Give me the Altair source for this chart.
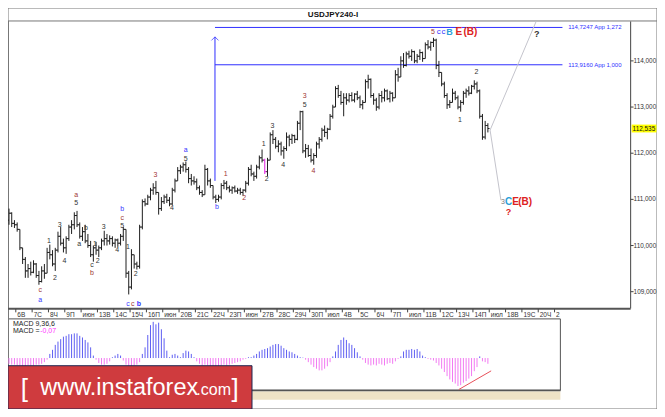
import altair as alt
import pandas as pd

# ---------------- data ----------------
OPEN = [110.55,110.70,110.48,110.45,110.35,109.95,109.70,109.45,109.50,109.42,
        109.60,109.35,109.22,109.45,109.40,109.85,109.80,109.60,109.90,110.20,
        110.05,109.95,110.15,110.40,110.45,110.65,110.45,110.20,110.30,110.10,
        110.00,109.80,109.95,109.90,109.95,110.10,110.15,110.10,110.15,110.05,
        110.12,110.05,110.20,110.35,109.40,109.10,109.80,109.60,109.55,110.40,
        110.95,110.90,111.05,111.20,111.25,111.15,110.80,110.95,111.05,110.98,
        110.90,111.20,111.40,111.62,111.70,111.75,111.65,111.45,111.40,111.38,
        111.25,111.15,111.10,111.65,111.40,111.30,111.05,111.00,111.05,111.30,
        111.35,111.25,111.20,111.25,111.18,111.20,111.15,111.20,111.35,111.65,
        111.55,111.50,111.70,111.90,111.85,111.60,111.85,112.40,112.30,112.15,
        112.20,112.05,112.10,112.35,112.30,112.38,112.30,112.65,112.90,112.05,
        112.10,111.95,111.85,111.95,112.20,112.30,112.50,112.45,112.52,112.80,
        113.00,113.40,113.25,113.10,113.20,113.15,113.25,113.15,113.28,113.20,
        113.05,113.10,113.55,113.60,113.25,113.15,113.00,113.25,113.20,113.35,
        113.18,113.30,113.20,113.70,113.65,114.00,113.90,114.15,114.10,114.20,
        114.00,114.10,114.18,114.05,114.35,114.30,114.40,114.45,113.90,113.75,
        113.50,113.25,113.05,113.10,113.30,113.20,113.00,113.10,113.30,113.35,
        113.30,113.45,113.50,113.35,112.80,112.35,112.60]
HIGH = [110.80,110.72,110.55,110.50,110.35,109.95,109.75,109.60,109.65,109.68,
        109.62,109.45,109.55,109.60,109.95,110.02,109.90,109.95,110.30,110.40,
        110.15,110.20,110.45,110.55,110.72,110.75,110.50,110.40,110.45,110.25,
        110.10,110.00,110.08,110.00,110.15,110.32,110.25,110.22,110.20,110.15,
        110.15,110.25,110.40,110.35,109.45,109.92,109.80,109.65,110.45,111.00,
        111.02,111.10,111.25,111.35,111.40,111.15,111.05,111.10,111.12,111.05,
        111.25,111.45,111.70,111.75,111.80,111.82,111.70,111.55,111.50,111.45,
        111.30,111.20,111.75,111.68,111.45,111.30,111.10,111.10,111.35,111.42,
        111.40,111.30,111.28,111.30,111.25,111.25,111.22,111.40,111.70,111.75,
        111.60,111.75,111.95,112.08,111.88,111.90,112.45,112.50,112.35,112.28,
        112.25,112.15,112.45,112.40,112.42,112.40,112.70,112.92,112.92,112.20,
        112.18,112.10,112.00,112.25,112.35,112.55,112.60,112.55,112.85,113.05,
        113.45,113.48,113.35,113.30,113.30,113.30,113.32,113.30,113.35,113.25,
        113.15,113.60,113.70,113.62,113.30,113.20,113.30,113.35,113.40,113.38,
        113.35,113.32,113.80,113.85,114.10,114.17,114.20,114.22,114.25,114.22,
        114.15,114.25,114.20,114.40,114.45,114.42,114.50,114.48,114.00,113.75,
        113.55,113.30,113.15,113.40,113.35,113.25,113.15,113.35,113.40,113.45,
        113.48,113.58,113.55,113.38,112.85,112.70,112.65]
LOW = [110.45,110.40,110.38,110.30,109.90,109.60,109.30,109.30,109.35,109.40,
       109.30,109.15,109.20,109.28,109.40,109.70,109.55,109.45,109.85,110.00,
       109.85,109.82,110.10,110.25,110.35,110.40,110.15,110.10,110.05,109.95,
       109.75,109.65,109.80,109.75,109.90,110.00,110.00,110.02,109.98,109.95,
       109.97,110.00,110.10,109.30,108.94,109.05,109.50,109.48,109.50,110.35,
       110.85,110.88,110.98,111.10,111.10,110.67,110.75,110.90,110.92,110.85,
       110.88,111.15,111.40,111.55,111.60,111.58,111.35,111.30,111.32,111.20,
       111.10,111.05,111.10,111.30,111.25,111.00,110.92,110.95,111.00,111.22,
       111.20,111.15,111.12,111.15,111.12,111.10,111.08,111.15,111.30,111.50,
       111.40,111.45,111.65,111.80,111.55,111.50,111.85,112.20,112.10,112.02,
       111.95,111.88,112.05,112.15,112.20,112.22,112.28,112.50,112.00,111.90,
       111.92,111.80,111.75,111.90,112.10,112.25,112.35,112.30,112.50,112.75,
       113.00,113.20,113.05,112.80,113.05,113.10,113.12,113.10,113.15,112.98,
       112.95,113.10,113.40,113.20,113.05,112.92,112.95,113.10,113.12,113.15,
       113.10,113.12,113.20,113.55,113.65,113.85,113.88,114.05,114.00,113.95,
       113.95,114.02,113.98,114.05,114.25,114.22,114.30,113.82,113.65,113.45,
       113.20,112.96,112.98,113.10,113.15,112.95,112.90,113.05,113.20,113.25,
       113.28,113.38,113.30,112.75,112.29,112.30,112.45]
CLOSE = [110.70,110.48,110.45,110.35,109.95,109.70,109.45,109.50,109.42,109.60,
         109.35,109.22,109.45,109.40,109.85,109.80,109.60,109.90,110.20,110.05,
         109.95,110.15,110.40,110.45,110.65,110.45,110.20,110.30,110.10,110.00,
         109.80,109.95,109.90,109.95,110.10,110.15,110.10,110.15,110.05,110.12,
         110.05,110.20,110.35,109.40,109.10,109.80,109.60,109.55,110.40,110.95,
         110.90,111.05,111.20,111.25,111.15,110.80,110.95,111.05,110.98,110.90,
         111.20,111.40,111.62,111.70,111.75,111.65,111.45,111.40,111.38,111.25,
         111.15,111.10,111.65,111.40,111.30,111.05,111.00,111.05,111.30,111.35,
         111.25,111.20,111.25,111.18,111.20,111.15,111.20,111.35,111.65,111.55,
         111.50,111.70,111.90,111.85,111.60,111.85,112.40,112.30,112.15,112.20,
         112.05,112.10,112.35,112.30,112.38,112.30,112.65,112.90,112.05,112.10,
         111.95,111.85,111.95,112.20,112.30,112.50,112.45,112.52,112.80,113.00,
         113.40,113.25,113.10,113.20,113.15,113.25,113.15,113.28,113.20,113.05,
         113.10,113.55,113.60,113.25,113.15,113.00,113.25,113.20,113.35,113.18,
         113.30,113.20,113.70,113.65,114.00,113.90,114.15,114.10,114.20,114.00,
         114.10,114.18,114.05,114.35,114.30,114.40,114.45,113.90,113.75,113.50,
         113.25,113.05,113.10,113.30,113.20,113.00,113.10,113.30,113.35,113.30,
         113.45,113.50,113.35,112.80,112.35,112.60,112.535]
MACD = [-0.07,-0.08,-0.08,-0.09,-0.09,-0.10,-0.10,-0.09,-0.09,-0.09,-0.08,-0.08,-0.07,-0.05,-0.02,
        0.05,0.10,0.16,0.20,0.23,0.26,0.27,0.29,0.29,0.30,0.30,0.27,0.25,0.22,0.19,0.13,0.03,
        -0.02,-0.06,-0.08,-0.08,-0.07,-0.04,
        0.01,0.03,0.05,0.03,
        -0.03,-0.08,-0.10,-0.10,-0.09,-0.08,-0.05,
        0.05,0.13,0.28,0.40,0.44,0.41,0.43,0.35,0.24,0.09,0.01,
        0.04,0.05,0.03,0.01,0.06,0.09,0.08,0.05,0.01,
        -0.04,-0.07,-0.09,-0.08,-0.09,-0.10,-0.10,-0.10,-0.10,-0.09,-0.08,-0.09,-0.08,-0.07,-0.06,-0.05,-0.04,-0.02,
        -0.01,0.01,
        0.01,0.03,0.05,0.08,0.10,0.11,0.12,0.14,0.16,0.17,0.17,0.15,0.12,0.10,0.08,0.07,0.05,0.03,0.01,0.005,
        -0.02,-0.05,-0.08,-0.11,-0.13,-0.15,-0.15,-0.13,-0.10,-0.05,
        0.02,0.08,0.16,0.22,0.25,0.22,0.18,0.16,0.12,0.07,0.02,
        -0.02,-0.06,-0.08,-0.09,-0.08,-0.09,-0.07,-0.08,-0.09,-0.07,-0.06,-0.07,-0.04,
        -0.01,0.02,0.08,0.10,0.10,0.11,0.10,0.11,0.08,0.03,0.01,
        -0.01,-0.02,-0.03,-0.06,-0.09,-0.13,-0.17,-0.22,-0.26,-0.29,-0.31,-0.34,-0.33,-0.30,-0.28,-0.25,-0.22,-0.16,-0.11,0.02,-0.04,-0.05,-0.07]
HIGHLIGHT_BAR = 94

DAY_LABELS = ["6В","7С","8Ч","9П","июн","13В","14С","15Ч","16П","июн","20В","21С","22Ч","23П","июн",
              "27В","28С","29Ч","30П","июл","4В","5С","6Ч","7П","июл","11В","12С","13Ч","14П","июл",
              "18В","19С","20Ч","2"]
PRICE_TICKS = [109, 110, 111, 112, 113, 114]
PRICE_TICK_TEXT = ["109,000", "110,000", "111,000", "112,000", "113,000", "114,000"]
LAST_PRICE = 112.535
LAST_PRICE_TEXT = "112,535"

FIB_LEVELS = [114.7247, 113.9160]
FIB_TEXT = ["114,7247 App 1,272", "113,9160 App 1,000"]
FIB_FROM_BAR, FIB_TO_BAR, FIB_TEXT_BAR = 75.7, 203.4, 204.8
ARROW_BAR, ARROW_FROM, ARROW_TO = 75.7, 111.40, 114.52

PROJ_BAR = [176.8, 180.8, 176.8, 193.7]
PROJ_PRICE = [112.50, 110.98, 112.50, 114.85]
PROJ_SEG = [0, 0, 1, 1]

MACD_TREND_BAR = [165.3, 177.2]
MACD_TREND_VAL = [-0.383, -0.156]

BLK, RED, BLUE, CYAN, BRED = "#333333", "#a03535", "#3535ff", "#2b9fd8", "#dd2222"
WAVE_BAR = [11.5, 11.5, 14.7, 16.85, 18.6, 20.4, 24.7, 24.7, 25.8, 28.3, 30.5, 30.5, 31.6, 32.6, 34.8,
            39.8, 41.6, 41.6, 41.6, 43.75, 45.5, 47.7, 43.75, 46.6, 53.8, 59.9, 64.9, 64.9, 76.4,
            79.6, 86.4, 93.6, 94.7, 96.8, 100.8, 108.7, 108.7, 111.9, 165.7, 171.8,
            155.8, 157.9, 159.7, 161.9, 165.3, 169.6,
            181.5, 183.6, 186.2, 189.7, 183.6, 194.0]
WAVE_PRICE = [109.04, 108.83, 110.10, 109.29, 110.44, 109.67, 110.92, 111.10, 110.04, 110.375, 109.58, 109.40,
              110.04, 109.67, 110.40, 109.90, 110.42, 110.60, 110.79, 108.73, 108.73, 108.73, 109.96, 109.375,
              111.52, 110.81, 111.875, 112.06, 110.83, 111.54, 111.02, 112.19, 111.44, 112.58, 111.75,
              113.04, 113.23, 111.625, 112.73, 113.75,
              114.625, 114.625, 114.625, 114.625, 114.625, 114.625,
              110.94, 110.94, 110.94, 110.94, 110.73, 114.58]
WAVE_TEXT = ["c", "a", "1", "2", "3", "4", "5", "a", "a", "b", "c", "b", "1", "2", "3", "4", "5", "c", "b",
             "c", "c", "b", "1", "2", "3", "4", "5", "a", "b", "1", "2", "1", "2", "3", "4", "5", "3", "4",
             "1", "2", "5", "c", "c", "B", "E", "(B)", "3", "C", "E", "(B)", "?", "?"]
WAVE_COLOR = [RED, BLUE, BLK, BLK, BLK, BLK, BLK, RED, BLK, BLK, BLK, RED, BLK, BLK, BLK, BLK, BLK, RED, BLUE,
              BLUE, RED, BLUE, BLK, BLK, RED, BLK, BLK, BLUE, BLUE, RED, RED, BLK, BLK, BLK, BLK, BLK, RED, RED,
              BLK, BLK, RED, BLUE, BLUE, CYAN, BRED, BRED, "#777777", CYAN, BRED, BRED, BRED, BLK]
WAVE_SIZE = [7] * 40 + [7, 8, 8, 9, 10, 10, 7, 10, 10, 10, 9, 9]
WAVE_BOLD = [False] * 21 + [True] + [False] * 21 + [True, True, True, False, True, True, True, True, True]

# ---------------- layout (pixels) ----------------
W, H = 649, 401
SX, SY = W / 665.0, H / 417.0


def px(v):
    return v * SX


def py(v):
    return v * SY


def xref(k):
    return 1.03 + 2.788 * k


def yref(p):
    return 55 + (114 - p) * 48


XS = alt.Scale(domain=[0, 228], range=[px(xref(0)), px(xref(228))], nice=False, zero=False)
YS = alt.Scale(domain=[108.65, 114.854], range=[py(yref(108.65)), py(yref(114.854))], nice=False, zero=False)
MS = alt.Scale(domain=[-0.394, 0.476], range=[py(397.7), py(323.3)], nice=False, zero=False)
FONT = "Liberation Sans"
FIB_BLUE = "#2f2fff"


def ex(f):
    return alt.X(f, type="quantitative", scale=XS, axis=None)


def ey(f):
    return alt.Y(f, type="quantitative", scale=YS, axis=None)


def em(f):
    return alt.Y(f, type="quantitative", scale=MS, axis=None)


one = pd.DataFrame({"a": [0]})


def box(x1, x2, y1, y2, **kw):
    return alt.Chart(one).mark_rect(**kw).encode(
        x=alt.value(x1), x2=alt.value(x2), y=alt.value(y1), y2=alt.value(y2))


def hline(x1, x2, y, color, w=1):
    return alt.Chart(one).mark_rule(color=color, strokeWidth=w).encode(
        x=alt.value(x1), x2=alt.value(x2), y=alt.value(y))


def vline(x, y1, y2, color, w=1):
    return alt.Chart(one).mark_rule(color=color, strokeWidth=w).encode(
        x=alt.value(x), y=alt.value(y1), y2=alt.value(y2))


def label(x, y, text, size, color="#222222", bold=False, align="left", font=FONT, baseline="middle"):
    return alt.Chart(one).mark_text(text=text, fontSize=size, color=color, font=font, align=align,
                                    baseline=baseline, fontWeight="bold" if bold else "normal").encode(
        x=alt.value(x), y=alt.value(y))


bars = pd.DataFrame({"k": list(range(len(OPEN))), "o": OPEN, "h": HIGH, "l": LOW, "c": CLOSE})
macd = pd.DataFrame({"k": list(range(len(MACD))), "m": MACD})
days = pd.DataFrame({"i": list(range(len(DAY_LABELS))), "t": DAY_LABELS})
pticks = pd.DataFrame({"p": PRICE_TICKS, "t": PRICE_TICK_TEXT})
fib = pd.DataFrame({"p": FIB_LEVELS, "t": FIB_TEXT, "k1": FIB_FROM_BAR, "k2": FIB_TO_BAR, "kt": FIB_TEXT_BAR})
arrow = pd.DataFrame({"k": [ARROW_BAR], "p1": [ARROW_FROM], "p2": [ARROW_TO]})
proj = pd.DataFrame({"k": PROJ_BAR, "p": PROJ_PRICE, "s": PROJ_SEG})
trend = pd.DataFrame({"k": MACD_TREND_BAR, "m": MACD_TREND_VAL})
waves = pd.DataFrame({"k": WAVE_BAR, "p": WAVE_PRICE, "t": WAVE_TEXT, "col": WAVE_COLOR,
                      "fs": WAVE_SIZE, "b": WAVE_BOLD})
last = pd.DataFrame({"p": [LAST_PRICE], "t": [LAST_PRICE_TEXT]})

layers = []
# frames
layers.append(box(0, W, 0, H, fill="white", stroke="#777777", strokeWidth=1))
layers.append(hline(0, W, py(13.5), "#777777"))
layers.append(box(0.5, px(566), py(323.3), py(397.7), fill="white", stroke="#555555", strokeWidth=1))
layers.append(hline(0, px(566), py(397.7), "#555555", 2))
layers.append(box(px(250), px(566), py(398.8), py(407.5), fill="#eee3c6"))
layers.append(vline(0.5, py(13.5), H, "#777777"))

# fib levels and arrow
layers.append(alt.Chart(fib).mark_rule(color=FIB_BLUE, strokeWidth=1).encode(
    x=ex("k1"), x2="k2", y=ey("p")))
layers.append(alt.Chart(fib).mark_text(align="left", baseline="middle", fontSize=6, font=FONT,
                                       color=FIB_BLUE, dx=2).encode(x=ex("kt"), y=ey("p"), text="t"))
layers.append(alt.Chart(arrow).mark_rule(color=FIB_BLUE, strokeWidth=1).encode(
    x=ex("k"), y=ey("p1"), y2="p2"))
layers.append(alt.Chart(arrow).mark_point(shape="M -1 1 L 0 0 L 1 1", filled=False, size=50,
                                          color=FIB_BLUE, strokeWidth=1).encode(x=ex("k"), y=ey("p2")))

# OHLC bars
bar_col = alt.condition(alt.datum.k == HIGHLIGHT_BAR, alt.value("#e020e0"), alt.value("#1e1e1e"))
base = alt.Chart(bars).transform_calculate(kl="datum.k - 0.6", kr="datum.k + 0.6")
layers.append(base.mark_rule(strokeWidth=1).encode(x=ex("k"), y=ey("l"), y2="h", color=bar_col))
layers.append(base.mark_rule(strokeWidth=1).encode(x=ex("kl"), x2="k", y=ey("o"), color=bar_col))
layers.append(base.mark_rule(strokeWidth=1).encode(x=ex("k"), x2="kr", y=ey("c"), color=bar_col))

# projection lines
layers.append(alt.Chart(proj).mark_line(color="#c4c4cc", strokeWidth=1).encode(
    x=ex("k"), y=ey("p"), detail="s:N", order="k:Q"))

# wave labels
for bold in (False, True):
    d = waves[waves["b"] == bold]
    layers.append(alt.Chart(d).mark_text(font=FONT, baseline="middle", align="center",
                                         fontWeight="bold" if bold else "normal").encode(
        x=ex("k"), y=ey("p"), text="t", color=alt.Color("col:N", scale=None),
        size=alt.Size("fs:Q", scale=None)))

# price axis
layers.append(vline(px(638), py(14), py(312.5), "#444444"))
layers.append(alt.Chart(pticks).mark_rule(color="#444444").encode(
    x=alt.value(px(638)), x2=alt.value(px(641)), y=ey("p")))
layers.append(alt.Chart(pticks).mark_text(align="left", baseline="middle", fontSize=6.4, font=FONT,
                                          color="#333333").encode(x=alt.value(px(641)), y=ey("p"), text="t"))
lastb = alt.Chart(last).transform_calculate(ph="datum.p + 0.085", pl="datum.p - 0.085")
layers.append(lastb.mark_rect(color="#ffff00").encode(x=alt.value(px(639)), x2=alt.value(W - 0.5), y=ey("ph"), y2="pl"))
layers.append(lastb.mark_text(align="left", baseline="middle", fontSize=6.4, font=FONT,
                              color="#111111").encode(x=alt.value(px(640)), y=ey("p"), text="t"))

# time axis
layers.append(hline(0, px(638), py(312.8), "#555555", 2))
dbase = alt.Chart(days).transform_calculate(k="2.5 + 6 * datum.i")
layers.append(dbase.mark_rule(color="#444444").encode(x=ex("k"), y=alt.value(py(313)), y2=alt.value(py(316.5))))
layers.append(dbase.mark_text(align="left", baseline="middle", fontSize=6.5, font=FONT, color="#333333",
                              dx=1.5).encode(x=ex("k"), y=alt.value(py(318.8)), text="t"))

# MACD histogram
mbase = alt.Chart(macd).transform_calculate(z="0")
layers.append(mbase.mark_rule(strokeWidth=1).encode(
    x=ex("k"), y=em("z"), y2="m",
    color=alt.condition(alt.datum.m > 0, alt.value("#5f5ff2"), alt.value("#f27af2"))))
layers.append(alt.Chart(trend).mark_line(color="#e8505a", strokeWidth=1).encode(x=ex("k"), y=em("m")))
layers.append(label(px(5), py(329), "MACD 9,36,6", 7, "#222222"))
layers.append(label(px(5), py(336), "MACD =", 7, "#222222"))
layers.append(label(px(33), py(336), "-0,07", 7, "#ff33ff"))

# title
layers.append(label(px(333), py(7), "USDJPY240-I", 8, "#111111", bold=True, align="center"))

# banner
layers.append(box(0, px(250), py(372), H, fill="#cf3b3e", stroke="#1c2450", strokeWidth=1))
layers.append(label(px(13), py(396), "[", 26, "white", baseline="middle"))
layers.append(label(px(33), py(402), "www.instaforex", 23.5, "white", baseline="alphabetic"))
layers.append(label(px(193), py(402), ".com", 16, "white", baseline="alphabetic"))
layers.append(label(px(229), py(396), "]", 26, "white", baseline="middle"))

chart = alt.layer(*layers).resolve_scale(x="independent", y="independent").properties(
    width=W, height=H, padding=0, autosize=alt.AutoSizeParams(type="none"),
    background="white").configure_view(stroke=None)

chart.save("out.html", embed_options={"renderer": "svg", "actions": False})
